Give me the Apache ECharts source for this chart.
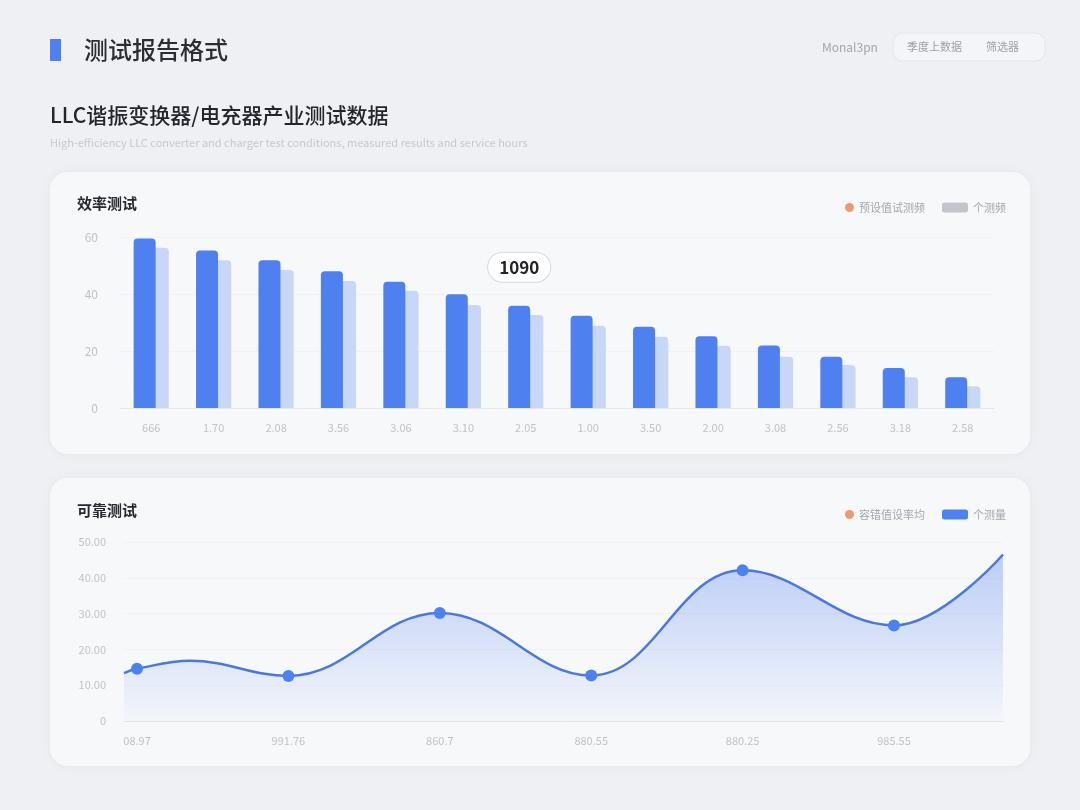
<!DOCTYPE html>
<html>
<head>
<meta charset="utf-8">
<script src="https://cdn.jsdelivr.net/npm/echarts@6/dist/echarts.min.js"></script>
<style>
  html, body { margin: 0; padding: 0; background: #eef0f4; }
  #main { width: 1080px; height: 810px; }
</style>
</head>
<body>
<div id="main"></div>
<script>
// 效率测试 柱状图数据
var barCategories = ['666', '1.70', '2.08', '3.56', '3.06', '3.10', '2.05', '1.00', '3.50', '2.00', '3.08', '2.56', '3.18', '2.58'];
var barPreset = [59.5, 55.3, 51.8, 48.0, 44.3, 39.9, 35.9, 32.4, 28.5, 25.2, 21.9, 18.0, 14.0, 10.8];
var barMeasured = [56.2, 51.8, 48.4, 44.6, 41.1, 36.1, 32.6, 28.9, 25.0, 21.8, 18.0, 15.1, 10.8, 7.6];
var barCallout = { index: 6, text: '1090' };

// 可靠测试 折线数据（x 为位置，marked 表示带圆点）
var lineX = [0.914, 1, 1.35, 2, 3, 4, 5, 6, 6.72];
var lineY = [13.4, 14.6, 16.8, 12.6, 30.2, 12.7, 42.1, 26.7, 46.5];
var lineMarked = [false, true, false, true, true, true, true, true, false];
var lineLabels = ['08.97', '991.76', '860.7', '880.55', '880.25', '985.55'];

var FONT = '"Noto Sans CJK SC", "Noto Sans", sans-serif';
var BLUE = '#4f80f0';
var LIGHT = '#c8d7f6';
var ORANGE = '#eb9a72';

var myChart = echarts.init(document.getElementById('main'));

var barData = barPreset.map(function (v, i) {
  if (i !== barCallout.index) return v;
  return {
    value: v,
    label: {
      show: true,
      position: 'top',
      distance: 24,
      formatter: barCallout.text,
      backgroundColor: '#ffffff',
      borderColor: '#d5d9e0',
      borderWidth: 1,
      borderRadius: 15,
      padding: [6, 11],
      fontSize: 17,
      fontWeight: 'bold',
      fontFamily: FONT,
      color: '#222428'
    }
  };
});

var lineData = lineX.map(function (x, i) {
  return {
    value: [x, lineY[i]],
    symbolSize: lineMarked[i] ? 12 : 0
  };
});

var smallLabel = { color: '#bfc3c9', fontSize: 11, fontFamily: FONT };

var option = {
  backgroundColor: '#eef0f4',
  textStyle: { fontFamily: FONT },
  animation: false,
  graphic: [
    // 页头
    { type: 'rect', shape: { x: 50, y: 39, width: 11, height: 22 }, style: { fill: BLUE } },
    { type: 'text', style: { x: 84, y: 50, text: '测试报告格式', fill: '#2a2d33', font: '500 24px ' + FONT, textVerticalAlign: 'middle' } },
    { type: 'text', style: { x: 822, y: 47, text: 'Monal3pn', fill: '#a3a7ae', font: '12px ' + FONT, textVerticalAlign: 'middle' } },
    { type: 'rect', shape: { x: 893, y: 33, width: 152, height: 28, r: 10 }, style: { fill: '#f4f5f8', stroke: '#e4e6eb', lineWidth: 1 } },
    { type: 'text', style: { x: 907, y: 47, text: '季度上数据', fill: '#9da1a8', font: '11px ' + FONT, textVerticalAlign: 'middle' } },
    { type: 'text', style: { x: 986, y: 47, text: '筛选器', fill: '#9da1a8', font: '11px ' + FONT, textVerticalAlign: 'middle' } },
    { type: 'text', style: { x: 50, y: 115, text: 'LLC谐振变换器/电充器产业测试数据', fill: '#22252b', font: '500 21px ' + FONT, textVerticalAlign: 'middle' } },
    { type: 'text', style: { x: 50, y: 143, text: 'High-efficiency LLC converter and charger test conditions, measured results and service hours', fill: '#c6c9cf', font: '11px ' + FONT, textVerticalAlign: 'middle' } },
    // 卡片
    { type: 'rect', shape: { x: 50, y: 172, width: 980, height: 282, r: 18 }, style: { fill: '#f7f8fa', shadowBlur: 14, shadowColor: 'rgba(0,0,0,0.04)' } },
    { type: 'rect', shape: { x: 50, y: 478, width: 980, height: 288, r: 18 }, style: { fill: '#f7f8fa', shadowBlur: 14, shadowColor: 'rgba(0,0,0,0.04)' } },
    { type: 'text', style: { x: 77, y: 203, text: '效率测试', fill: '#25282e', font: 'bold 15px ' + FONT, textVerticalAlign: 'middle' } },
    { type: 'text', style: { x: 77, y: 510, text: '可靠测试', fill: '#25282e', font: 'bold 15px ' + FONT, textVerticalAlign: 'middle' } }
  ],
  legend: [
    {
      left: 840, top: 197, itemWidth: 9, itemHeight: 9, itemGap: 6,
      textStyle: { color: '#a3a7ae', fontSize: 11 },
      data: [{ name: '预设值试测频', icon: 'circle', itemStyle: { color: ORANGE } }]
    },
    {
      left: 937, top: 197, itemWidth: 26, itemHeight: 10,
      textStyle: { color: '#a3a7ae', fontSize: 11 },
      data: [{ name: '个测频', icon: 'roundRect', itemStyle: { color: '#c3c5ca' } }]
    },
    {
      left: 840, top: 504, itemWidth: 9, itemHeight: 9,
      textStyle: { color: '#a3a7ae', fontSize: 11 },
      data: [{ name: '容错值设率均', icon: 'circle', itemStyle: { color: ORANGE } }]
    },
    {
      left: 937, top: 504, itemWidth: 26, itemHeight: 10,
      textStyle: { color: '#a3a7ae', fontSize: 11 },
      data: [{ name: '个测量', icon: 'roundRect', itemStyle: { color: BLUE } }]
    }
  ],
  grid: [
    { left: 120, right: 86, top: 237, height: 171 },
    { left: 124, right: 77, top: 542, height: 179 }
  ],
  xAxis: [
    {
      gridIndex: 0,
      type: 'category',
      data: barCategories,
      axisLine: { lineStyle: { color: '#e4e7ec' } },
      axisTick: { show: false },
      axisLabel: Object.assign({ margin: 14 }, smallLabel)
    },
    {
      gridIndex: 1,
      type: 'value',
      min: lineX[0],
      max: lineX[lineX.length - 1],
      axisLine: { show: true, lineStyle: { color: '#e1e4e9' } },
      axisTick: { show: false },
      splitLine: { show: false },
      axisLabel: Object.assign({
        margin: 14,
        customValues: [1, 2, 3, 4, 5, 6],
        formatter: function (v) { return lineLabels[Math.round(v) - 1] || ''; }
      }, smallLabel)
    }
  ],
  yAxis: [
    {
      gridIndex: 0,
      type: 'value',
      min: 0, max: 60, interval: 20,
      axisLine: { show: false },
      axisTick: { show: false },
      splitLine: { lineStyle: { color: '#eff1f4' } },
      axisLabel: Object.assign({ margin: 22 }, smallLabel, { fontSize: 12 })
    },
    {
      gridIndex: 1,
      type: 'value',
      min: 0, max: 50, interval: 10,
      axisLine: { show: false },
      axisTick: { show: false },
      splitLine: { lineStyle: { color: '#f0f2f5' } },
      axisLabel: Object.assign({
        margin: 18,
        formatter: function (v) { return v === 0 ? '0' : v.toFixed(2); }
      }, smallLabel)
    }
  ],
  series: [
    {
      name: '预设值试测频',
      type: 'bar',
      xAxisIndex: 0, yAxisIndex: 0,
      z: 3,
      barWidth: 22,
      barGap: '-40%',
      data: barData,
      itemStyle: { color: BLUE, borderRadius: [4, 4, 0, 0] }
    },
    {
      name: '个测频',
      type: 'bar',
      xAxisIndex: 0, yAxisIndex: 0,
      z: 2,
      barWidth: 22,
      barGap: '-40%',
      data: barMeasured,
      itemStyle: { color: LIGHT, borderRadius: [4, 4, 0, 0] }
    },
    {
      name: '容错值设率均',
      type: 'line',
      xAxisIndex: 1, yAxisIndex: 1,
      data: []
    },
    {
      name: '个测量',
      type: 'line',
      xAxisIndex: 1, yAxisIndex: 1,
      smooth: 0.4,
      symbol: 'circle',
      data: lineData,
      itemStyle: { color: BLUE },
      lineStyle: { color: '#4a78de', width: 2.5 },
      areaStyle: {
        color: new echarts.graphic.LinearGradient(0, 0, 0, 1, [
          { offset: 0, color: 'rgba(79,128,240,0.50)' },
          { offset: 1, color: 'rgba(79,128,240,0.03)' }
        ])
      }
    }
  ]
};

myChart.setOption(option, true);
</script>
</body>
</html>
